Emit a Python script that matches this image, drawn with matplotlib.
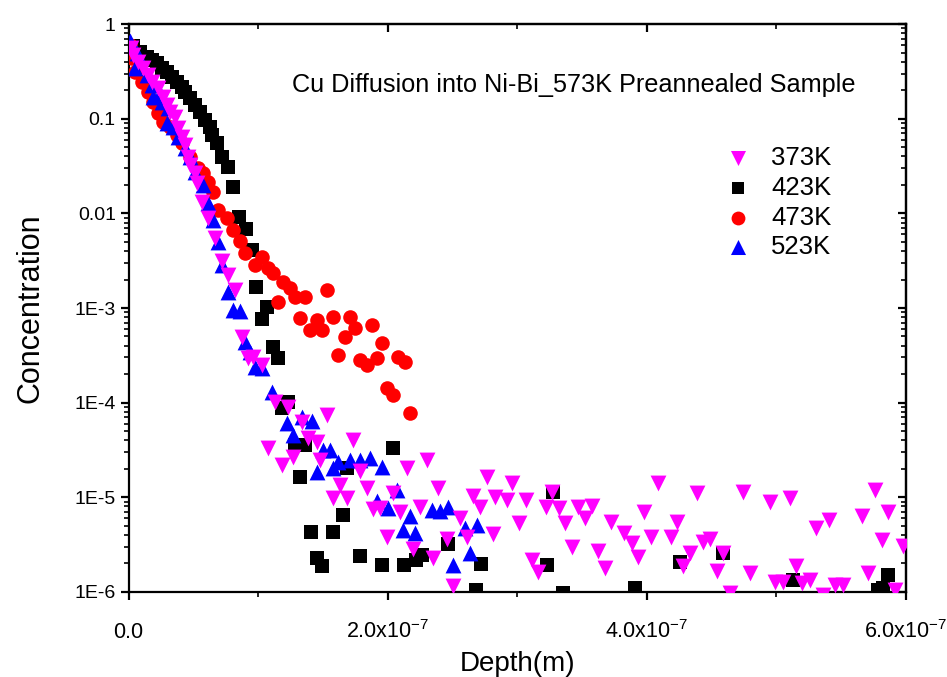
import numpy as np
import matplotlib
matplotlib.use("Agg")
import matplotlib.pyplot as plt
from matplotlib.ticker import FixedLocator, FixedFormatter, LogLocator, NullFormatter

plt.rcParams['font.family'] = ['Liberation Sans', 'DejaVu Sans']
plt.rcParams['mathtext.fontset'] = 'custom'
plt.rcParams['mathtext.rm'] = 'Liberation Sans'
plt.rcParams['mathtext.it'] = 'Liberation Sans:italic'

# depth in nm, concentration as log10 value
depth_373 = [1.5, 3.1, 6.9, 10.8, 14.7, 17.8, 22.4, 26.3, 29.3, 31.7, 35.5, 37.8, 40.9, 43.2, 45.6,
             47.1, 51.0, 52.5, 56.4, 61.0, 66.4, 71.8, 76.4, 81.9, 87.3, 91.9, 95.8, 102.7, 112.7,
             122.8, 133.6, 152.9, 107.3, 118.1, 126.6, 138.2, 145.2, 147.5, 173.0, 178.4, 162.9,
             157.5, 168.3, 183.8, 188.4, 193.8, 203.9, 209.3, 199.2, 214.7, 230.1, 238.6, 219.3,
             234.7, 224.7, 255.6, 245.6, 261.0, 265.6, 271.0, 276.4, 250.2, 282.6, 281.1, 291.9,
             295.8, 306.6, 301.2, 311.2, 315.8, 326.6, 322.0, 332.0, 336.7, 346.7, 357.5, 352.1,
             342.1, 362.2, 367.6, 372.2, 382.2, 388.4, 393.1, 397.7, 403.1, 408.5, 418.5, 423.2,
             433.2, 427.8, 438.6, 443.2, 448.6, 454.1, 458.7, 464.1, 474.1, 479.5, 495.0, 498.8,
             505.0, 510.4, 515.1, 519.7, 525.9, 530.5, 535.9, 540.5, 545.2, 551.4, 566.0, 570.7,
             576.1, 581.5, 586.1, 591.5, 597.7]
logc_373 = [-0.254, -0.327, -0.401, -0.465, -0.539, -0.613, -0.676, -0.771, -0.856, -0.930, -0.982,
            -1.099, -1.194, -1.278, -1.405, -1.489, -1.574, -1.680, -1.880, -2.049, -2.261, -2.503,
            -2.651, -2.810, -3.306, -3.528, -3.517, -3.602, -3.993, -4.046, -4.204, -4.130, -4.479,
            -4.658, -4.574, -4.373, -4.415, -4.606, -4.394, -4.722, -4.870, -5.007, -5.007, -4.901,
            -5.123, -5.113, -4.954, -5.155, -5.419, -4.690, -4.606, -4.901, -5.546, -5.641, -5.102,
            -5.218, -5.440, -5.419, -4.986, -5.102, -4.785, -5.936, -4.996, -5.387, -5.028, -4.848,
            -5.028, -5.271, -5.662, -5.789, -4.943, -5.102, -5.113, -5.271, -5.102, -5.091, -5.218,
            -5.524, -5.567, -5.746, -5.261, -5.377, -5.482, -5.630, -5.155, -5.419, -4.848, -5.419,
            -5.261, -5.588, -5.725, -4.954, -5.472, -5.440, -5.778, -5.588, -6.010, -4.943, -5.799,
            -5.049, -5.894, -5.894, -5.007, -5.725, -5.905, -5.873, -5.324, -6.030, -5.239, -5.926,
            -5.926, -5.197, -5.799, -4.922, -5.450, -5.155, -5.979, -5.514]

depth_423 = [3.1, 8.5, 13.9, 17.8, 21.6, 25.5, 29.3, 33.2, 37.1, 40.9, 43.2, 47.1, 51.0, 54.8, 58.7,
             62.5, 64.1, 68.0, 71.8, 76.4, 80.3, 84.9, 90.3, 95.0, 98.1, 102.7, 106.6, 111.2, 115.1,
             118.1, 122.8, 128.2, 135.9, 132.0, 168.3, 203.9, 165.3, 140.5, 157.5, 145.2, 149.0,
             178.4, 195.4, 212.4, 221.6, 226.3, 246.3, 271.8, 268.0, 327.4, 322.8, 335.1, 390.7,
             425.5, 458.7, 512.7, 578.4, 586.1, 582.2]
logc_423 = [-0.232, -0.296, -0.349, -0.380, -0.412, -0.465, -0.507, -0.560, -0.613, -0.665, -0.718,
            -0.782, -0.856, -0.929, -1.014, -1.088, -1.172, -1.257, -1.405, -1.510, -1.722, -2.039,
            -2.165, -2.387, -2.778, -3.116, -2.989, -3.412, -3.528, -4.056, -3.993, -4.447, -4.447,
            -4.785, -4.690, -4.479, -5.187, -5.366, -5.366, -5.641, -5.725, -5.620, -5.715, -5.715,
            -5.662, -5.609, -5.493, -5.704, -5.979, -4.943, -5.715, -6.010, -5.958, -5.683, -5.588,
            -5.873, -5.979, -5.820, -5.958]

depth_473 = [0.8, 2.3, 4.6, 10.0, 14.7, 18.5, 22.4, 26.3, 31.7, 37.1, 40.9, 47.1, 53.3, 57.1, 61.0,
             64.9, 68.7, 75.7, 80.3, 85.7, 89.6, 97.3, 102.7, 107.3, 111.2, 118.9, 124.3, 128.2,
             135.9, 152.9, 115.1, 132.0, 139.8, 145.2, 149.0, 157.5, 166.8, 170.7, 174.5, 187.6,
             195.4, 161.4, 178.4, 183.8, 191.5, 207.7, 213.1, 199.2, 203.9, 217.0]
logc_473 = [-0.222, -0.359, -0.507, -0.613, -0.718, -0.824, -0.940, -1.035, -1.088, -1.172, -1.257,
            -1.405, -1.521, -1.574, -1.669, -1.775, -1.965, -2.049, -2.176, -2.292, -2.419, -2.546,
            -2.461, -2.577, -2.630, -2.725, -2.789, -2.884, -2.884, -2.810, -2.937, -3.106, -3.232,
            -3.127, -3.232, -3.095, -3.306, -3.095, -3.211, -3.179, -3.370, -3.496, -3.549, -3.602,
            -3.528, -3.517, -3.570, -3.845, -3.919, -4.109]

depth_523 = [0.8, 6.2, 4.6, 13.9, 17.8, 23.9, 18.5, 25.5, 30.1, 29.3, 34.0, 37.8, 43.2, 47.1, 51.0,
             57.1, 61.0, 64.9, 68.7, 71.8, 76.4, 80.3, 85.7, 89.6, 93.4, 97.3, 102.7, 110.4, 122.0,
             126.6, 133.6, 141.3, 149.8, 155.2, 161.4, 145.2, 157.5, 170.7, 178.4, 186.1, 195.4,
             191.5, 200.0, 207.0, 211.6, 217.0, 220.9, 234.0, 240.2, 246.3, 259.5, 268.7, 263.3,
             250.2]
logc_523 = [-0.180, -0.306, -0.465, -0.539, -0.644, -0.729, -0.771, -0.824, -0.887, -1.046, -1.088,
            -1.194, -1.310, -1.405, -1.563, -1.701, -1.891, -2.070, -2.303, -2.546, -2.831, -3.021,
            -3.032, -3.359, -3.465, -3.623, -3.634, -3.887, -4.215, -4.341, -4.151, -4.193, -4.500,
            -4.500, -4.627, -4.732, -4.690, -4.606, -4.606, -4.584, -4.679, -5.039, -5.113, -4.922,
            -5.345, -5.197, -5.377, -5.134, -5.144, -5.102, -5.324, -5.292, -5.588, -5.715]

y_ticks = [1, 0.1, 0.01, 1e-3, 1e-4, 1e-5, 1e-6]
y_labels = ["1", "0.1", "0.01", "1E-3", "1E-4", "1E-5", "1E-6"]
x_ticks = [0, 2e-7, 4e-7, 6e-7]
x_labels = [r"$0.0$", r"$2.0\mathrm{x}10^{-7}$", r"$4.0\mathrm{x}10^{-7}$", r"$6.0\mathrm{x}10^{-7}$"]

fig = plt.figure(figsize=(9.47, 6.77), dpi=100)
ax = fig.add_axes([0.1362, 0.1256, 0.8205, 0.8389])

ax.scatter(np.array(depth_423) * 1e-9, 10 ** np.array(logc_423), marker='s', s=90,
           color='black', linewidths=0, label='423K', zorder=2)
ax.scatter(np.array(depth_473) * 1e-9, 10 ** np.array(logc_473), marker='o', s=110,
           color='#ff0000', linewidths=0, label='473K', zorder=3)
ax.scatter(np.array(depth_523) * 1e-9, 10 ** np.array(logc_523), marker='^', s=130,
           color='#0000ff', linewidths=0, label='523K', zorder=4)
ax.scatter(np.array(depth_373) * 1e-9, 10 ** np.array(logc_373), marker='v', s=130,
           color='#ff00ff', linewidths=0, label='373K', zorder=5)

ax.set_yscale('log')
ax.set_xlim(0, 6e-7)
ax.set_ylim(1e-6, 1)

ax.xaxis.set_major_locator(FixedLocator(x_ticks))
ax.xaxis.set_major_formatter(FixedFormatter(x_labels))
ax.xaxis.set_minor_locator(FixedLocator([1e-7, 3e-7, 5e-7]))
ax.yaxis.set_major_locator(FixedLocator(y_ticks))
ax.yaxis.set_major_formatter(FixedFormatter(y_labels))
ax.yaxis.set_minor_locator(LogLocator(base=10, subs=np.arange(2, 10), numticks=20))
ax.yaxis.set_minor_formatter(NullFormatter())

for sp in ax.spines.values():
    sp.set_linewidth(1.6)
ax.tick_params(which='major', direction='out', length=6, width=1.6)
ax.tick_params(which='minor', direction='out', length=3.5, width=1.2)
ax.tick_params(axis='y', labelsize=14)
ax.tick_params(axis='x', labelsize=15.5, pad=27)
for lab in ax.get_xticklabels():
    lab.set_verticalalignment('baseline')

# mirrored ticks pointing inward on top and right
top = ax.secondary_xaxis('top')
top.xaxis.set_major_locator(FixedLocator(x_ticks))
top.xaxis.set_minor_locator(FixedLocator([1e-7, 3e-7, 5e-7]))
top.tick_params(which='major', direction='in', length=6, width=1.6, labeltop=False)
top.tick_params(which='minor', direction='in', length=3.5, width=1.2)
right = ax.secondary_yaxis('right')
right.yaxis.set_major_locator(FixedLocator(y_ticks))
right.yaxis.set_minor_locator(LogLocator(base=10, subs=np.arange(2, 10), numticks=20))
right.yaxis.set_minor_formatter(NullFormatter())
right.tick_params(which='major', direction='in', length=6, width=1.6, labelright=False)
right.tick_params(which='minor', direction='in', length=3.5, width=1.2)
for s in (top, right):
    for sp in s.spines.values():
        sp.set_linewidth(1.6)

ax.set_xlabel("Depth(m)", fontsize=20, labelpad=6)
ax.set_ylabel("Concentration", fontsize=22, labelpad=21)

ax.text(0.573, 0.893, "Cu Diffusion into Ni-Bi_573K Preannealed Sample", transform=ax.transAxes,
        fontsize=18.2, ha='center', va='center')

handles, labels = ax.get_legend_handles_labels()
order = [labels.index(k) for k in ['373K', '423K', '473K', '523K']]
ax.legend([handles[i] for i in order], [labels[i] for i in order], loc='upper left',
          bbox_to_anchor=(0.727, 0.8165), frameon=False, fontsize=18.5, markerscale=0.95,
          handletextpad=0.3, labelspacing=0.22, scatterpoints=1, borderpad=0.2)

fig.savefig("out.png", dpi=100)
